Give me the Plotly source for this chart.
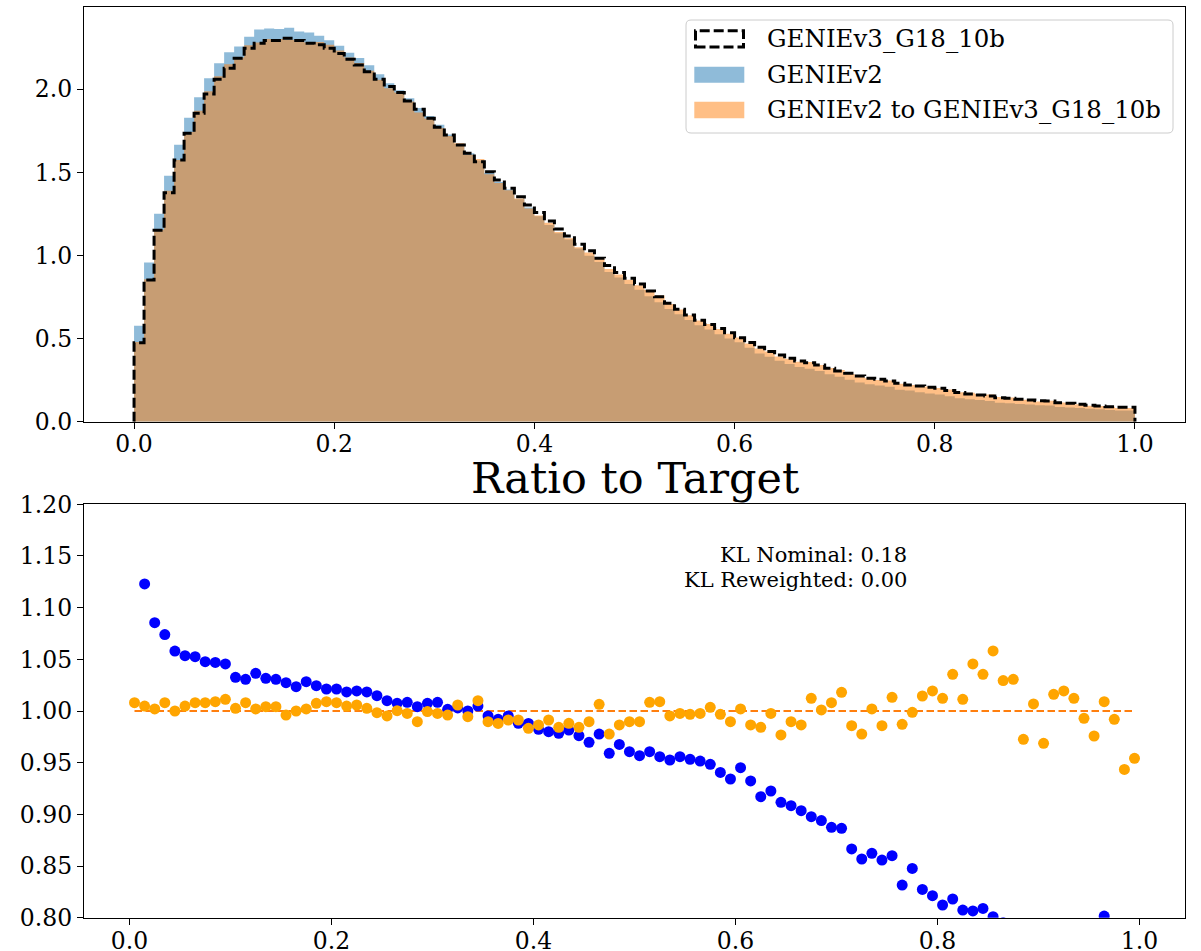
import numpy as np
import plotly.graph_objects as go

# ---------------- data ----------------
N_BINS = 100
X_LO, X_HI = 0.0, 1.0

# GENIEv3_G18_10b (target) density per bin
target = [
    0.475, 0.853, 1.152, 1.378, 1.575, 1.735, 1.855, 1.972, 2.060, 2.126,
    2.186, 2.247, 2.277, 2.293, 2.293, 2.307, 2.293, 2.277, 2.267, 2.247,
    2.215, 2.180, 2.146, 2.106, 2.060, 2.016, 1.980, 1.930, 1.880, 1.825,
    1.771, 1.725, 1.665, 1.615, 1.564, 1.504, 1.454, 1.404, 1.354, 1.304,
    1.258, 1.208, 1.159, 1.117, 1.067, 1.029, 0.983, 0.939, 0.897, 0.863,
    0.829, 0.786, 0.752, 0.712, 0.676, 0.642, 0.610, 0.585, 0.560, 0.535,
    0.505, 0.477, 0.448, 0.423, 0.402, 0.382, 0.365, 0.355, 0.341, 0.321,
    0.305, 0.291, 0.275, 0.261, 0.255, 0.245, 0.231, 0.221, 0.215, 0.207,
    0.201, 0.187, 0.175, 0.167, 0.161, 0.155, 0.144, 0.141, 0.135, 0.131,
    0.126, 0.124, 0.114, 0.111, 0.105, 0.099, 0.094, 0.090, 0.087, 0.087,
]

# ratio GENIEv2 (nominal) / target
ratio_nominal = [
    1.215, 1.123, 1.0855, 1.074, 1.058, 1.0535, 1.0526, 1.0477, 1.047, 1.0455,
    1.0326, 1.0306, 1.0365, 1.0316, 1.0306, 1.0274, 1.0235, 1.0284, 1.0245, 1.0213,
    1.0213, 1.0184, 1.0194, 1.0184, 1.0148, 1.010, 1.0074, 1.0084, 1.0042, 1.0074,
    1.0084, 1.0016, 1.003, 1.000, 1.0048, 0.9952, 0.992, 0.9952, 0.9881, 0.988,
    0.9823, 0.980, 0.9784, 0.9816, 0.9761, 0.9697, 0.9777, 0.959, 0.9677, 0.9606,
    0.9568, 0.9606, 0.9558, 0.9526, 0.9558, 0.9532, 0.9516, 0.9484, 0.9406, 0.9342,
    0.9452, 0.9323, 0.9171, 0.9226, 0.9116, 0.9084, 0.9035, 0.8977, 0.894, 0.8874,
    0.8865, 0.8665, 0.8568, 0.8623, 0.8558, 0.860, 0.8316, 0.8477, 0.8274, 0.8213,
    0.8123, 0.8181, 0.8074, 0.8065, 0.809, 0.801, 0.795, 0.790, 0.785, 0.790,
    0.780, 0.785, 0.780, 0.775, 0.780, 0.785, 0.8016, 0.780, 0.770, 0.775,
]

# ratio GENIEv2 reweighted / target
ratio_reweighted = [
    1.0081, 1.0048, 1.002, 1.0081, 1.000, 1.0048, 1.0081, 1.0081, 1.009, 1.0113,
    1.0026, 1.0081, 1.002, 1.0042, 1.0042, 0.9961, 1.000, 1.002, 1.0074, 1.009,
    1.0081, 1.0048, 1.0058, 1.0026, 0.9984, 0.9952, 1.0003, 0.9977, 0.9897, 0.9994,
    0.9977, 0.9961, 1.0058, 0.9945, 1.010, 0.9897, 0.988, 0.9913, 0.9913, 0.9832,
    0.9865, 0.9913, 0.9842, 0.9881, 0.9842, 0.9897, 1.0065, 0.9777, 0.9865, 0.9897,
    0.9897, 1.0084, 1.009, 0.9952, 0.9977, 0.9968, 0.9977, 1.0036, 0.9968, 0.9897,
    1.002, 0.9865, 0.9842, 0.9977, 0.9768, 0.9897, 0.9865, 1.0123, 1.001, 1.0081,
    1.0181, 0.9858, 0.9777, 1.002, 0.9858, 1.0132, 0.9871, 0.9987, 1.0145, 1.0194,
    1.0123, 1.0355, 1.0113, 1.0455, 1.0355, 1.0581, 1.0294, 1.0306, 0.9726, 1.0068,
    0.9687, 1.0161, 1.0194, 1.0123, 0.9929, 0.9758, 1.009, 0.9919, 0.9435, 0.9542,
]

LABEL_TARGET = "GENIEv3_G18_10b"
LABEL_NOMINAL = "GENIEv2"
LABEL_REWEIGHTED = "GENIEv2 to GENIEv3_G18_10b"
KL_LINES = ["KL Nominal: 0.18", "KL Reweighted: 0.00"]
RATIO_TITLE = "Ratio to Target"

X_TICKS = [0.0, 0.2, 0.4, 0.6, 0.8, 1.0]
Y_TICKS_TOP = [0.0, 0.5, 1.0, 1.5, 2.0]
Y_TICKS_BOT = [0.80, 0.85, 0.90, 0.95, 1.00, 1.05, 1.10, 1.15, 1.20]

# ---------------- derived ----------------
edges = np.linspace(X_LO, X_HI, N_BINS + 1)
centers = 0.5 * (edges[:-1] + edges[1:])
target_a = np.array(target)
nominal = target_a * np.array(ratio_nominal)
reweighted = target_a * np.array(ratio_reweighted)

# ---------------- styling ----------------
W, H = 1201, 951
FONT = "DejaVu Serif"
TICK_FONT = dict(family=FONT, size=23.5, color="black")
C_BLUE_HIST = "rgba(31,119,180,0.5)"
C_ORANGE_HIST = "rgba(255,127,14,0.5)"


def px_x(p):
    return p / W


def px_y(p):
    return 1 - p / H


fig = go.Figure()

# filled step histograms
for vals, col, name in [(nominal, C_BLUE_HIST, LABEL_NOMINAL),
                        (reweighted, C_ORANGE_HIST, LABEL_REWEIGHTED)]:
    fig.add_trace(go.Scatter(
        x=list(edges), y=list(vals) + [vals[-1]],
        mode="lines", line=dict(shape="hv", width=0, color=col),
        fill="tozeroy", fillcolor=col, name=name, showlegend=False,
        hoverinfo="skip", xaxis="x", yaxis="y"))

# target step outline (dashed)
fig.add_trace(go.Scatter(
    x=[edges[0]] + list(edges) + [edges[-1]],
    y=[0] + list(target_a) + [target_a[-1], 0],
    mode="lines", line=dict(shape="hv", width=3, color="black", dash="10px,4px"),
    name=LABEL_TARGET, showlegend=False, xaxis="x", yaxis="y"))

# ratio panel
fig.add_trace(go.Scatter(
    x=[centers[0], centers[-1]], y=[1, 1], mode="lines",
    line=dict(color="#ff7f0e", width=2, dash="7.5px,3.5px"),
    showlegend=False, xaxis="x2", yaxis="y2"))
fig.add_trace(go.Scatter(
    x=centers, y=ratio_nominal, mode="markers",
    marker=dict(color="#0000ff", size=11, line=dict(width=0)),
    name="Nominal", showlegend=False, xaxis="x2", yaxis="y2"))
fig.add_trace(go.Scatter(
    x=centers, y=ratio_reweighted, mode="markers",
    marker=dict(color="#ffa500", size=11, line=dict(width=0)),
    name="Reweighted", showlegend=False, xaxis="x2", yaxis="y2"))

XDOM = [px_x(84), px_x(1185)]
axis_common = dict(showline=True, mirror=True, linecolor="black", linewidth=1.3,
                   ticks="outside", ticklen=6, tickwidth=1.3, tickcolor="black",
                   showgrid=False, zeroline=False, tickfont=TICK_FONT, automargin=False)

fig.update_layout(
    width=W, height=H,
    margin=dict(l=0, r=0, t=0, b=0),
    paper_bgcolor="white", plot_bgcolor="white",
    showlegend=False,
    xaxis=dict(domain=XDOM, anchor="y", range=[-0.05, 1.05], ticklabelstandoff=-5,
               tickvals=X_TICKS, ticktext=[f"{v:.1f}" for v in X_TICKS], **axis_common),
    yaxis=dict(domain=[px_y(421.7), px_y(7.3)], anchor="x", range=[0, 2.493],
               tickvals=Y_TICKS_TOP, ticktext=[f"{v:.1f}" for v in Y_TICKS_TOP], **axis_common),
    xaxis2=dict(domain=XDOM, anchor="y2", range=[-0.045, 1.045], ticklabelstandoff=-4,
                tickvals=X_TICKS, ticktext=[f"{v:.1f}" for v in X_TICKS], **axis_common),
    yaxis2=dict(domain=[px_y(917.7), px_y(504.3)], anchor="x2", range=[0.8, 1.2],
                tickvals=Y_TICKS_BOT, ticktext=[f"{v:.2f}" for v in Y_TICKS_BOT], **axis_common),
)

# ---------------- manual legend (matplotlib style) ----------------
def rounded_rect(x0, y0, x1, y1, r):
    X0, X1 = px_x(x0), px_x(x1)
    Y0, Y1 = px_y(y0), px_y(y1)  # Y0 top, Y1 bottom
    rx, ry = r / W, r / H
    return (f"M {X0+rx},{Y0} L {X1-rx},{Y0} Q {X1},{Y0} {X1},{Y0-ry} "
            f"L {X1},{Y1+ry} Q {X1},{Y1} {X1-rx},{Y1} L {X0+rx},{Y1} "
            f"Q {X0},{Y1} {X0},{Y1+ry} L {X0},{Y0-ry} Q {X0},{Y0} {X0+rx},{Y0} Z")

shapes = [dict(type="path", xref="paper", yref="paper",
               path=rounded_rect(686, 20, 1173, 133, 5),
               line=dict(color="#cccccc", width=1), fillcolor="rgba(255,255,255,0.8)")]
shapes.append(dict(type="rect", xref="paper", yref="paper",
                   x0=px_x(695.5), x1=px_x(743.5), y0=px_y(47.0), y1=px_y(30.8),
                   line=dict(color="black", width=3, dash="10px,4px"), fillcolor="rgba(0,0,0,0)"))
shapes.append(dict(type="rect", xref="paper", yref="paper",
                   x0=px_x(694.3), x1=px_x(744.3), y0=px_y(82.7), y1=px_y(66.7),
                   line=dict(width=0), fillcolor=C_BLUE_HIST))
shapes.append(dict(type="rect", xref="paper", yref="paper",
                   x0=px_x(694.3), x1=px_x(744.3), y0=px_y(118.3), y1=px_y(101.7),
                   line=dict(width=0), fillcolor=C_ORANGE_HIST))

annotations = []
for label, yc in [(LABEL_TARGET, 38.5), (LABEL_NOMINAL, 74.5), (LABEL_REWEIGHTED, 110.0)]:
    annotations.append(dict(text=label, xref="paper", yref="paper", x=px_x(765), y=px_y(yc),
                            xanchor="left", yanchor="middle", showarrow=False,
                            font=dict(family=FONT, size=24.5, color="black")))

annotations.append(dict(text=RATIO_TITLE, xref="paper", yref="paper",
                        x=px_x(634.5), y=px_y(478), xanchor="center", yanchor="middle",
                        showarrow=False, font=dict(family=FONT, size=43, color="black")))
for line, yc in zip(KL_LINES, [554.5, 579.5]):
    annotations.append(dict(text=line, xref="paper", yref="paper",
                            x=px_x(909), y=px_y(yc), xanchor="right", yanchor="middle",
                            align="right", showarrow=False,
                            font=dict(family=FONT, size=21, color="black")))

fig.update_layout(shapes=shapes, annotations=annotations)

fig.write_html("out.html")
